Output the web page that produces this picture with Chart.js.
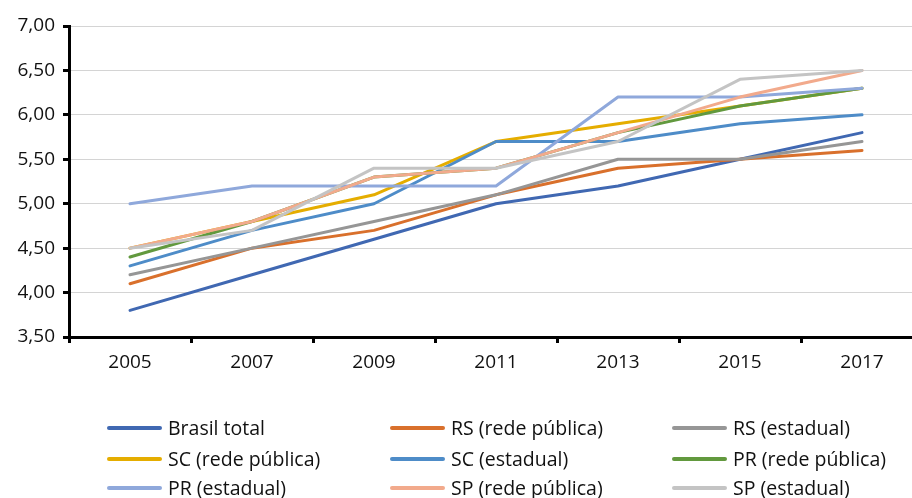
<!DOCTYPE html>
<html>
<head>
<meta charset="utf-8">
<script src="https://cdn.jsdelivr.net/npm/chart.js@4.4.0/dist/chart.umd.min.js"></script>
<style>
  html, body { margin: 0; padding: 0; background: #fff; overflow: hidden; }
  #wrap { position: relative; width: 924px; height: 498px; }
  #legend { position: absolute; left: 0; top: 0; width: 912px; height: 498px; pointer-events: none;
            font-family: "Open Sans", "Noto Sans", sans-serif; font-size: 19.5px; color: #111; }
  .item { position: absolute; height: 30px; }
  .swatch { position: absolute; left: 0; top: 13px; width: 55px; height: 4px; border-radius: 2px; }
  .label { position: absolute; left: 61px; top: 0; line-height: 30px; white-space: nowrap; }
</style>
</head>
<body>
<div id="wrap">
  <canvas id="c" width="924" height="498"></canvas>
  <div id="legend"></div>
</div>
<script>
const years = ["2005", "2007", "2009", "2011", "2013", "2015", "2017"];
const seriesNames = ["Brasil total", "RS (rede pública)", "RS (estadual)", "SC (rede pública)", "SC (estadual)", "PR (rede pública)", "PR (estadual)", "SP (rede pública)", "SP (estadual)"];
const brasilTotal = [3.8, 4.2, 4.6, 5.0, 5.2, 5.5, 5.8];
const rsRede      = [4.1, 4.5, 4.7, 5.1, 5.4, 5.5, 5.6];
const rsEstadual  = [4.2, 4.5, 4.8, 5.1, 5.5, 5.5, 5.7];
const scRede      = [4.5, 4.8, 5.1, 5.7, 5.9, 6.1, 6.3];
const scEstadual  = [4.3, 4.7, 5.0, 5.7, 5.7, 5.9, 6.0];
const prRede      = [4.4, 4.8, 5.3, 5.4, 5.8, 6.1, 6.3];
const prEstadual  = [5.0, 5.2, 5.2, 5.2, 6.2, 6.2, 6.3];
const spRede      = [4.5, 4.8, 5.3, 5.4, 5.8, 6.2, 6.5];
const spEstadual  = [4.5, 4.7, 5.4, 5.4, 5.7, 6.4, 6.5];
const yTickValues = [3.5, 4.0, 4.5, 5.0, 5.5, 6.0, 6.5, 7.0];

const seriesValues = [brasilTotal, rsRede, rsEstadual, scRede, scEstadual, prRede, prEstadual, spRede, spEstadual];
const colors = ["#4068B2", "#D9702C", "#969696", "#E5AD00", "#4E8CC8", "#62993E", "#8FA8DB", "#F2AA8C", "#C4C4C4"];

const datasets = seriesNames.map((name, i) => ({
  label: name,
  data: seriesValues[i],
  borderColor: colors[i],
  backgroundColor: colors[i],
  borderWidth: 3,
  pointRadius: 0,
  tension: 0,
  borderCapStyle: 'round',
  borderJoinStyle: 'round',
  fill: false,
  order: seriesNames.length - i
}));

const font = { family: '"Open Sans", "Noto Sans", sans-serif', size: 19 };

const chart = new Chart(document.getElementById('c'), {
  type: 'line',
  data: { labels: years, datasets },
  options: {
    responsive: false,
    animation: false,
    devicePixelRatio: 1,
    layout: { padding: { top: 26, right: 1, bottom: 111, left: 0 } },
    plugins: { legend: { display: false }, tooltip: { enabled: false } },
    scales: {
      x: {
        offset: true,
        grid: { display: true, drawOnChartArea: false, drawTicks: true, offset: true,
                tickLength: 6, tickColor: '#000', tickWidth: 3, color: '#000' },
        border: { display: true, color: '#000', width: 3 },
        ticks: { color: '#111', font, padding: 8, maxRotation: 0 },
        afterFit: (s) => { s.height = 50; }
      },
      y: {
        min: 3.5, max: 7.0,
        afterBuildTicks: (s) => { s.ticks = yTickValues.map(v => ({ value: v })); },
        grid: { color: '#D4D4D4', lineWidth: 1, drawTicks: true, tickLength: 6, tickColor: '#000', tickWidth: 3 },
        border: { display: true, color: '#000', width: 3 },
        ticks: { color: '#111', font, padding: 8,
                 callback: (v) => Number(v).toFixed(2).replace('.', ',') },
        afterFit: (s) => { s.width = 69; }
      }
    }
  }
});

// HTML legend built from chart datasets, 3-column grid
const legendEl = document.getElementById('legend');
const colX = [107, 390, 672];
const rowY = [413, 444, 473];
chart.data.datasets.forEach((ds, i) => {
  const item = document.createElement('div');
  item.className = 'item';
  item.style.left = colX[i % 3] + 'px';
  item.style.top = rowY[Math.floor(i / 3)] + 'px';
  const sw = document.createElement('div');
  sw.className = 'swatch';
  sw.style.background = ds.borderColor;
  const lb = document.createElement('div');
  lb.className = 'label';
  lb.textContent = ds.label;
  item.appendChild(sw);
  item.appendChild(lb);
  legendEl.appendChild(item);
});
</script>
</body>
</html>
